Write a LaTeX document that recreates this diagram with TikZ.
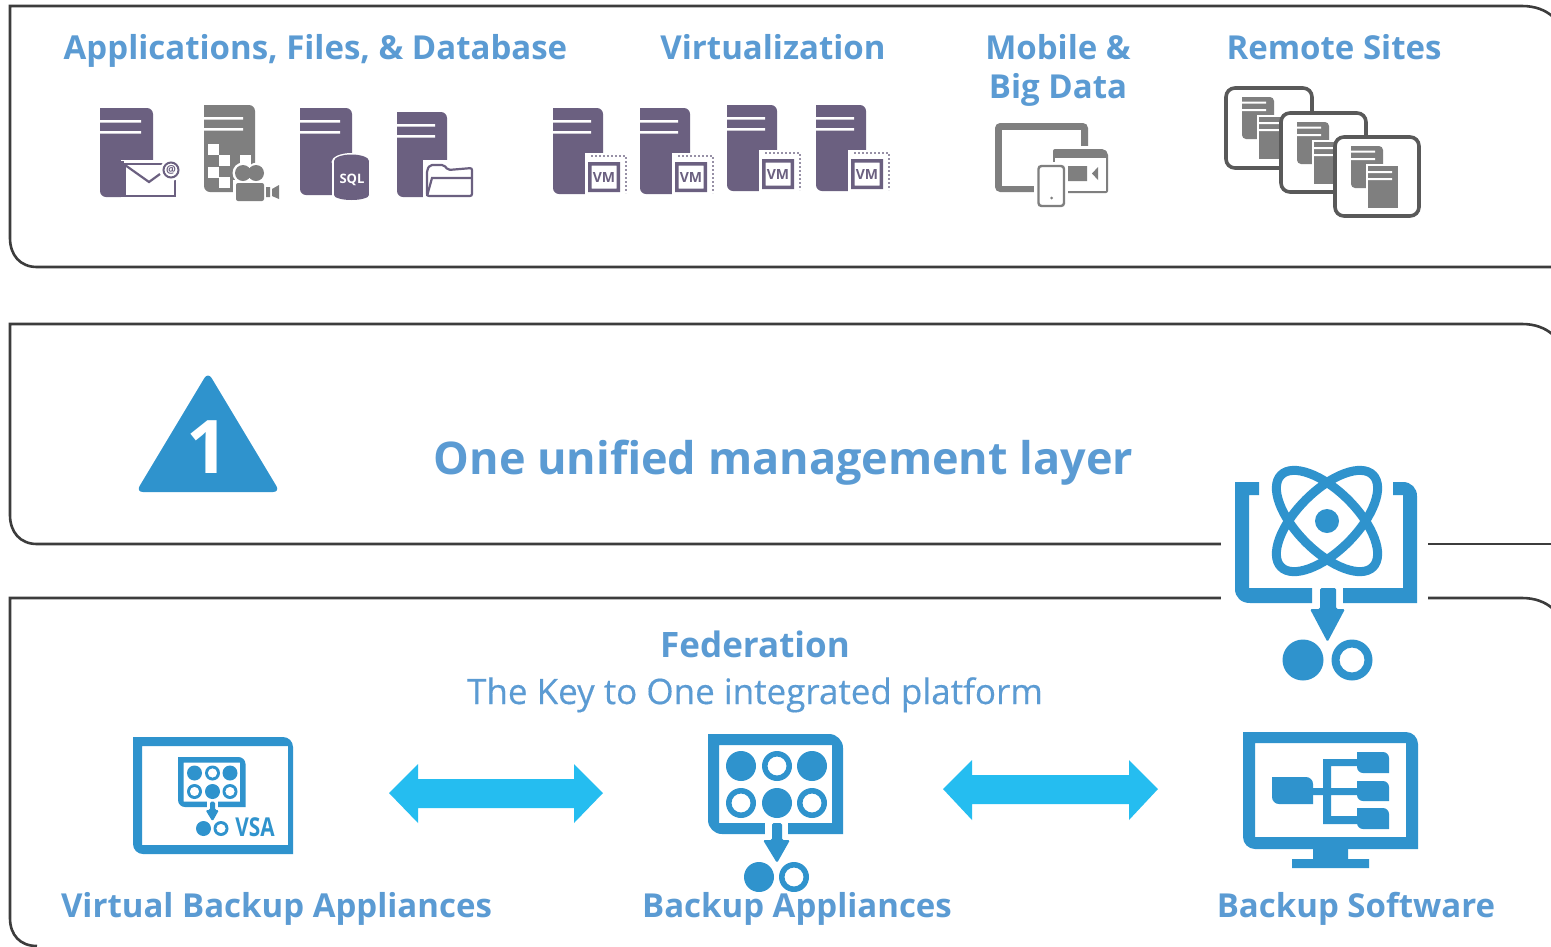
\documentclass[tikz,border=0pt]{standalone}
\usepackage{fontspec}
\setmainfont{Open Sans}
\newfontfamily\semifont{Open Sans}[FakeBold=0.35]
\definecolor{txtblue}{HTML}{5B9BD3}
\definecolor{iconblue}{HTML}{2F93CD}
\definecolor{arrowblue}{HTML}{25BDF0}
\definecolor{purp}{HTML}{6B6080}
\definecolor{grayicon}{HTML}{7F7F7F}
\definecolor{framecol}{HTML}{3C3C3C}
\definecolor{sitecol}{HTML}{595959}
\newcommand\trbl[5]{(#1,#2) -- ({#3-#5},#2) .. controls ({#3-.45*#5},#2) and (#3,{#2+.45*#5}) .. (#3,{#2+#5}) -- (#3,#4) -- ({#1+#5},#4) .. controls ({#1+.45*#5},#4) and (#1,{#4-.45*#5}) .. (#1,{#4-#5}) -- cycle}
\newcommand\srv[5]{\begin{scope}[shift={(#1,#2)}]
  \fill[#5] \trbl{0}{0}{#3}{#4}{6};
  \fill[white] (0,12) rectangle ({#3-12},14.5) (0,23) rectangle ({#3-12},25.5);
\end{scope}}
\newcommand\vmsrv[2]{\srv{#1}{#2}{50}{86}{purp}
\begin{scope}[shift={(#1,#2)}]
  \fill[white] (32,45) rectangle (74,87);
  \draw[purp!70,line width=2,dash pattern=on 2pt off 2pt] (38,48) -- (73,48) -- (73,85);
  \fill[purp,even odd rule] (35,54) rectangle (67,84) (38.5,57.5) rectangle (63.5,80.5);
  \node[vmtext] (vm#1) at (51,69) {VM};
\end{scope}}
\newcommand\docs{%
  \fill[grayicon] \trbl{16}{9}{48}{51}{4};
  \fill[white] (16,13.5) rectangle (40,15.5) (16,21) rectangle (40,23);
  \fill[white] (31,27) rectangle (66,73);
  \fill[grayicon] (33,29) rectangle (63,71);
  \fill[white] (33,34) rectangle (57,36) (33,41) rectangle (57,43);
}
\newcommand\appliance{%
  \fill[iconblue,even odd rule] \trbl{0}{0}{135}{100}{14} (11,11) rectangle (124,89);
  \fill[white] (57,85) rectangle (80,101);
  \foreach \px/\py in {33/32,104/32,69/69}{\fill[iconblue] (\px,\py) circle[radius=15];}
  \foreach \px/\py in {69/32,33/69,104/69,86/143}{\fill[iconblue,even odd rule] (\px,\py) circle[radius=15] (\px,\py) circle[radius=9.5];}
  \fill[iconblue] (51,143) circle[radius=15];
  \fill[iconblue,rounded corners=1.5] (64,89) -- (74,89) -- (74,106) -- (82,106) -- (69,129) -- (55,106) -- (64,106) -- cycle;
}
\tikzset{
  frameline/.style={draw=framecol,line width=2.6},
  headbold/.style={anchor=base,text=txtblue,font=\bfseries\fontsize{33}{38}\selectfont,inner sep=0},
  vmtext/.style={text=purp,font=\bfseries\fontsize{14}{14}\selectfont,inner sep=0},
  flow/.style={fill=arrowblue},
  site/.style={fill=white,draw=sitecol,line width=3.6,rounded corners=9},
}
\begin{document}
\begin{tikzpicture}[x=1pt,y=-1pt]
\useasboundingbox (0,0) rectangle (1551,946);
\clip (0,0) rectangle (1551,946);
\fill[white] (0,0) rectangle (1551,946);
% frames
\draw[frameline] (1552,267) -- (37,267) .. controls (20,267) and (10,255) .. (10,238) -- (10,6) -- (1522,6) .. controls (1535,6) and (1545,10) .. (1552,16);
\draw[frameline] (1221,544) -- (37,544) .. controls (20,544) and (10,532) .. (10,515) -- (10,324) -- (1522,324) .. controls (1535,324) and (1545,328) .. (1552,334);
\draw[frameline] (1428,544) -- (1552,544);
\draw[frameline] (1221,598) -- (10,598) -- (10,918) .. controls (10,935) and (20,946) .. (37,946);
\draw[frameline] (1428,598) -- (1522,598) .. controls (1535,598) and (1545,602) .. (1552,608);
% headings
\node[headbold] (h1) at (315.5,59) {Applications, Files, \& Database};
\node[headbold] (h2) at (773,59) {Virtualization};
\node[headbold] (h3a) at (1058,59) {Mobile \&};
\node[headbold] (h3b) at (1058,98) {Big Data};
\node[headbold] (h4) at (1334,59) {Remote Sites};
% email server
\srv{100}{108}{53}{89}{purp}
\fill[white] (121,160) rectangle (178,198);
\fill[purp] (121,161) rectangle (124,197);
\draw[purp,line width=2.2] (125,164) rectangle (175,196);
\draw[purp,line width=2.2] (125,165) -- (149,182) -- (160,174);
\fill[white] (171,170) circle[radius=11];
\draw[purp,line width=2] (171,170) circle[radius=7.5];
\node[text=purp,font=\bfseries\fontsize{11}{11}\selectfont,inner sep=0] (at1) at (171,170) {@};
% video server
\srv{204}{105}{51}{87}{grayicon}
\foreach \px/\py in {208/144,219/155,240/155,208/167,219/177}{\fill[white] (\px,\py) rectangle ++(11,11);}
\fill[white] (243,173) circle[radius=10.5] (257,173) circle[radius=10.5];
\fill[white] (233,180) rectangle (267,202);
\fill[grayicon] (243,173) circle[radius=8] (256,173) circle[radius=8];
\fill[grayicon,rounded corners=2] (236,183) rectangle (264,201);
\fill[grayicon] (266,187) rectangle (270,197) (272,189) -- (279,185) -- (279,199) -- (272,196) -- cycle;
% sql server
\srv{300}{108}{52}{87}{purp}
\fill[white] (351.5,162) ellipse[x radius=20,y radius=9];
\fill[white] (331.5,162) rectangle (371.5,197);
\fill[white] (351.5,197) ellipse[x radius=20,y radius=6];
\fill[purp] (351.5,161) ellipse[x radius=17.5,y radius=6.5];
\fill[purp] (334,161) rectangle (369,195);
\fill[purp] (351.5,195) ellipse[x radius=17.5,y radius=5];
\node[text=white,font=\bfseries\fontsize{13}{13}\selectfont,inner sep=0] (sql) at (352,180) {SQL};
% folder server
\srv{397}{112}{50}{85}{purp}
\fill[white] (423,160) rectangle (475,198);
\draw[purp,line width=2.2,rounded corners=2] (427,196) -- (427,170) -- (430,165) -- (444,165) -- (448,170) -- (472,168) -- (472,196) -- cycle;
\draw[purp,line width=2.2] (427,196) -- (432,178) -- (472,178);
% VM servers
\vmsrv{553}{108}
\vmsrv{640}{108}
\vmsrv{727}{105}
\vmsrv{816}{105}
% mobile
\fill[grayicon,rounded corners=5,even odd rule] (995,123) rectangle (1088,192);
\fill[white] (1002,130) rectangle (1081,186);
\fill[white] (1050,146) rectangle (1110,196);
\fill[white] (1034,162) rectangle (1068,210);
\fill[grayicon,rounded corners=2] (1053,149) -- (1104,149) -- (1108,153) -- (1108,193) -- (1053,193) -- cycle;
\fill[white] (1055,158) rectangle (1106,191);
\fill[grayicon] (1068,166) rectangle (1087,181) (1092,173.5) -- (1098,167) -- (1098,180) -- cycle;
\fill[white] (1034,162) rectangle (1068,210);
\draw[grayicon,line width=2.4,rounded corners=3,fill=white] (1038.5,166) rectangle (1064,206);
\fill[grayicon] (1051.5,198) circle[radius=1.5];
% remote sites
\begin{scope}[shift={(1226,88)}]
  \draw[site] (0,0) rectangle (86,80);
  \docs
\end{scope}
\begin{scope}[shift={(1281,113)}]
  \draw[site] (0,0) rectangle (85,79);
  \docs
\end{scope}
\begin{scope}[shift={(1335,137)}]
  \draw[site] (0,0) rectangle (84,79);
  \docs
\end{scope}
% triangle
\fill[iconblue,rounded corners=7] (208,372) -- (280,492) -- (136,492) -- cycle;
\node[text=white,font=\fontsize{74}{74}\bfseries\selectfont,inner sep=0,anchor=base] (one) at (208,473) {1};
\node[anchor=base,text=txtblue,font=\bfseries\fontsize{45}{50}\selectfont,inner sep=0] (layer) at (783.5,474) {One unified management layer};
% atom bracket
\fill[white] (1221,470) rectangle (1428,690);
\fill[iconblue] (1235,482) -- (1259,482) -- (1259,495) -- (1249,495) -- (1249,588) -- (1312,588) -- (1312,603) -- (1250,603) .. controls (1241,603) and (1235,597) .. (1235,589) -- cycle;
\fill[iconblue] (1393,482) -- (1403,482) .. controls (1411,482) and (1417,488) .. (1417,496) -- (1417,603) -- (1343,603) -- (1343,588) -- (1403,588) -- (1403,495) -- (1393,495) -- cycle;
\draw[iconblue,line width=9] (1327,521) ellipse[x radius=65,y radius=30,rotate=45];
\draw[iconblue,line width=9] (1327,521) ellipse[x radius=65,y radius=30,rotate=-45];
\fill[iconblue] (1327,521) circle[radius=12];
\fill[iconblue,rounded corners=1.5] (1320,588) -- (1336,588) -- (1336,609) -- (1345,609) -- (1327.5,642) -- (1310,609) -- (1320,609) -- cycle;
\fill[iconblue] (1303,660) circle[radius=20.5];
\fill[iconblue,even odd rule] (1352,660) circle[radius=20.5] (1352,660) circle[radius=12.5];
% federation text
\node[headbold,font=\bfseries\fontsize{35}{40}\selectfont] (fed) at (755,657) {Federation};
\node[anchor=base,text=txtblue,font=\semifont\fontsize{35}{40}\selectfont,inner sep=0] (key) at (755,704) {The Key to One integrated platform};
% VSA
\fill[iconblue,even odd rule] \trbl{133}{737}{293}{854}{10} (142,746) rectangle (288,845);
\begin{scope}[shift={(178,757)},scale=0.5]
  \appliance
\end{scope}
\node[text=iconblue,font=\bfseries\fontsize{26}{26}\selectfont,inner sep=0] (vsa) at (255,827) {\scalebox{0.8}[1]{VSA}};
% appliance
\begin{scope}[shift={(708,734)}]
  \appliance
\end{scope}
% monitor
\fill[iconblue,even odd rule] \trbl{1243}{732}{1418}{849}{12} (1255,743) rectangle (1406,837);
\fill[iconblue] (1313,849) rectangle (1348,860) (1292,859) rectangle (1369,868);
\fill[iconblue] \trbl{1272}{777}{1313}{804}{7};
\fill[iconblue] (1313,788) rectangle (1360,795) (1323,759) rectangle (1331,824) (1323,759) rectangle (1360,766) (1323,816) rectangle (1360,824);
\fill[iconblue] \trbl{1357}{752}{1389}{773}{6};
\fill[iconblue] \trbl{1357}{781}{1389}{801}{6};
\fill[iconblue] \trbl{1357}{808}{1389}{829}{6};
% double arrows
\fill[flow] (389,793) -- (418,764) -- (418,779) -- (574,779) -- (574,764) -- (603,793) -- (574,823) -- (574,808) -- (418,808) -- (418,823) -- cycle;
\fill[flow] (943,789) -- (972,760) -- (972,775) -- (1129,775) -- (1129,760) -- (1158,789) -- (1129,820) -- (1129,804) -- (972,804) -- (972,820) -- cycle;
% labels
\node[headbold] (l1) at (276.5,917) {Virtual Backup Appliances};
\fill[white] (745,892) rectangle (815,900);
\node[headbold] (l2) at (797,917) {Backup Appliances};
\node[headbold] (l3) at (1356,917) {Backup Software};
\end{tikzpicture}
\end{document}
